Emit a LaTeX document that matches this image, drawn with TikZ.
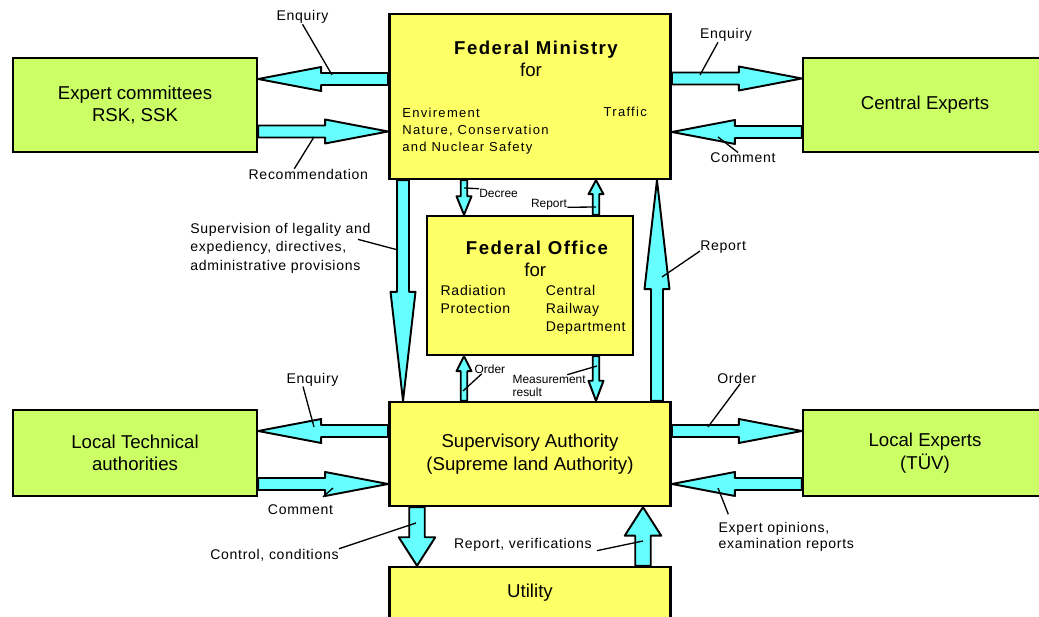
\documentclass[tikz,border=0pt]{standalone}
\usepackage{fontspec}
\setmainfont{Liberation Sans}
\usepackage{tikz}
\usetikzlibrary{calc, backgrounds}

\definecolor{boxyellow}{RGB}{255,255,102}
\definecolor{boxgreen}{RGB}{204,255,102}
\definecolor{arrcyan}{RGB}{102,255,255}

\tikzset{
  box/.style={draw, line width=1.4pt, inner sep=0pt, align=center,
    font=\fontsize{10.6}{12.8}\selectfont},
  ybox/.style={box, fill=boxyellow, minimum width=5.63cm},
  gbox/.style={box, fill=boxgreen, minimum width=4.88cm},
  title/.style={inner sep=0pt, font=\fontsize{10.6}{12.8}\selectfont\bfseries\addfontfeatures{LetterSpace=8}},
  forfont/.style={inner sep=0pt, font=\fontsize{10.6}{12.8}\selectfont},
  fmtext/.style={inner sep=0pt, align=left, font=\fontsize{7.4}{9.7}\selectfont\addfontfeatures{LetterSpace=10}},
  fotext/.style={inner sep=0pt, align=left, font=\fontsize{8}{10.1}\selectfont\addfontfeatures{LetterSpace=5}},
  lbl/.style={inner sep=0pt, align=left, font=\fontsize{8}{10.5}\selectfont\addfontfeatures{LetterSpace=5}},
  tiny/.style={inner sep=0pt, align=left, font=\fontsize{6.8}{7.6}\selectfont},
  lead/.style={line width=0.75pt},
  barrow/.style n args={3}{draw=black, line width=1.1pt, fill=arrcyan, line join=round,
    to path={
      ($(\tikztostart)!#1!90:(\tikztotarget)$)
      -- ($(\tikztotarget)!#3!(\tikztostart) + (\tikztostart)!#1!90:(\tikztotarget) - (\tikztostart)$)
      -- ($(\tikztotarget)!#3!(\tikztostart) + (\tikztostart)!#2!90:(\tikztotarget) - (\tikztostart)$)
      -- (\tikztotarget)
      -- ($(\tikztotarget)!#3!(\tikztostart) + (\tikztostart)!#2!-90:(\tikztotarget) - (\tikztostart)$)
      -- ($(\tikztotarget)!#3!(\tikztostart) + (\tikztostart)!#1!-90:(\tikztotarget) - (\tikztostart)$)
      -- ($(\tikztostart)!#1!-90:(\tikztotarget)$)
      -- cycle}},
  hbig/.style={barrow={0.12cm}{0.24cm}{1.26cm}},
  vbig/.style={barrow={0.12cm}{0.25cm}{2.18cm}},
  small/.style={barrow={0.065cm}{0.15cm}{#1}},
  fat/.style={barrow={0.155cm}{0.365cm}{0.57cm}}
}

\begin{document}
\begin{tikzpicture}[x=0.02cm, y=-0.02cm]
\useasboundingbox (0,0) rectangle (1039,617);

% boxes
\node[ybox, minimum height=3.3cm] (FM) at (530,96.5) {};
\node[gbox, minimum height=1.88cm] (EC) at (135,105) {Expert committees\\RSK, SSK};
\node[gbox, minimum height=1.88cm] (CE) at (925,105) {Central Experts};
\node[ybox, minimum width=4.12cm, minimum height=2.78cm] (FO) at (530,285.5) {};
\node[ybox, minimum height=2.08cm] (SA) at (530,454) {Supervisory Authority\\(Supreme land Authority)};
\node[ybox, minimum height=1.04cm] (UT) at (530,593) {Utility};
\node[gbox, minimum height=1.72cm] (LT) at (135,453) {Local Technical\\authorities};
\node[gbox, minimum height=1.72cm] (LE) at (925,453) {Local Experts\\(TÜV)};

% texts inside the two authorities
\node[title, anchor=base] (FMt) at (536,54.5) {Federal Ministry};
\node[forfont, anchor=base] (FMf) at (531,77) {for};
\node[fmtext, anchor=north west] (FMl) at (402,107.4) {Envirement\\Nature, Conservation\\and Nuclear Safety};
\node[fmtext, anchor=base west] (FMr) at (603.3,116.7) {Traffic};
\node[title, anchor=base] (FOt) at (537,255) {Federal Office};
\node[forfont, anchor=base] (FOf) at (535.3,276.7) {for};
\node[fotext, anchor=north west] (FOl) at (440.3,285) {Radiation\\Protection};
\node[fotext, anchor=north west] (FOr) at (545.5,285) {Central\\Railway\\Department};

% ports
\coordinate (ECa) at ([yshift=0.52cm]EC.east);
\coordinate (ECb) at ([yshift=-0.53cm]EC.east);
\coordinate (CEa) at ([yshift=0.53cm]CE.west);
\coordinate (CEb) at ([yshift=-0.54cm]CE.west);
\coordinate (LTa) at ([yshift=0.44cm]LT.east);
\coordinate (LTb) at ([yshift=-0.62cm]LT.east);
\coordinate (LEa) at ([yshift=0.44cm]LE.west);
\coordinate (LEb) at ([yshift=-0.62cm]LE.west);
\coordinate (Bl) at ([xshift=-2.54cm]FM.south);
\coordinate (Br) at ([xshift=2.54cm]FM.south);
\coordinate (Sl) at ([xshift=-1.32cm]FM.south);
\coordinate (Sr) at ([xshift=1.32cm]FM.south);
\coordinate (Ul) at ([xshift=-2.26cm]SA.south);
\coordinate (Ur) at ([xshift=2.26cm]SA.south);

% block arrows
\begin{scope}[on background layer]
\draw[hbig] (FM.west |- ECa) to (ECa);
\draw[hbig] (ECb) to (FM.west |- ECb);
\draw[hbig] (FM.east |- CEa) to (CEa);
\draw[hbig] (CEb) to (FM.east |- CEb);
\draw[hbig] (SA.west |- LTa) to (LTa);
\draw[hbig] (LTb) to (SA.west |- LTb);
\draw[hbig] (SA.east |- LEa) to (LEa);
\draw[hbig] (LEb) to (SA.east |- LEb);
\draw[vbig] (Bl) to (Bl |- SA.north);
\draw[vbig] (Br |- SA.north) to (Br);
\draw[small=0.37cm] (Sl) to (Sl |- FO.north);
\draw[small=0.28cm] (Sr |- FO.north) to (Sr);
\draw[small=0.3cm] (Sl |- SA.north) to (Sl |- FO.south);
\draw[small=0.4cm] (Sr |- FO.south) to (Sr |- SA.north);
\draw[fat] (Ul) to (Ul |- UT.north);
\draw[fat] (Ur |- UT.north) to (Ur);
\end{scope}

% labels
\node[lbl, anchor=base] (enqA) at (302.5,21) {Enquiry};
\node[lbl, anchor=base] (rec) at (308.3,179.3) {Recommendation};
\node[lbl, anchor=base] (enqB) at (726,39) {Enquiry};
\node[lbl, anchor=base] (comB) at (743,162.7) {Comment};
\node[tiny, anchor=base west] (dec) at (479,197.3) {Decree};
\node[tiny, anchor=base west] (repA) at (530.7,207.3) {Report};
\node[lbl, anchor=north west] (sup) at (190,223) {Supervision of legality and\\expediency, directives,\\administrative provisions};
\node[lbl, anchor=base west] (repB) at (700,251) {Report};
\node[tiny, anchor=base west] (ord) at (474.3,373.3) {Order};
\node[tiny, anchor=north west] (meas) at (512.3,374.7) {Measurement\\result};
\node[lbl, anchor=base] (enqC) at (312.5,383.3) {Enquiry};
\node[lbl, anchor=base] (comC) at (300.5,515) {Comment};
\node[lbl, anchor=base east] (ctl) at (339,559.3) {Control, conditions};
\node[lbl, anchor=base] (repV) at (522.8,548.3) {Report, verifications};
\node[lbl, anchor=base] (ordB) at (736.7,383.3) {Order};
\node[lbl, anchor=north west, font=\fontsize{8}{9.1}\selectfont\addfontfeatures{LetterSpace=5}] (expo) at (718.3,522.3) {Expert opinions,\\examination reports};

% leader ends
\coordinate (e1) at (332,75);
\coordinate (e2) at (314,137);
\coordinate (e3) at (700,75);
\coordinate (e4) at (718,137);
\coordinate (e5) at (464,188);
\coordinate (e6) at (596,207);
\coordinate (e7) at (398,250);
\coordinate (e8) at (662,277);
\coordinate (e9) at (463,391);
\coordinate (e10) at (597,366);
\coordinate (e11) at (314,427);
\coordinate (e12) at (333,488);
\coordinate (e13) at (416,523);
\coordinate (e14) at (643,541);
\coordinate (e15) at (708,427);
\coordinate (e16) at (718,488);

% leader lines
\draw[lead] (enqA.south) -- (e1);
\draw[lead] ([xshift=-0.28cm]rec.north) -- (e2);
\draw[lead] ([xshift=-0.16cm]enqB.south) -- (e3);
\draw[lead] ([xshift=-0.1cm]comB.north) -- (e4);
\draw[lead] (dec.north west) -- (e5);
\draw[lead] (repA.base east) -- (e6);
\draw[lead] ([shift={(-0.26cm,0.18cm)}]sup.east) -- (e7);
\draw[lead] (repB.base west) -- (e8);
\draw[lead] ([xshift=0.15cm]ord.south west) -- (e9);
\draw[lead] ([xshift=1.1cm]meas.north west) -- (e10);
\draw[lead] ([xshift=-0.19cm]enqC.south) -- (e11);
\draw[lead] ([shift={(0.45cm,0.16cm)}]comC.north) -- (e12);
\draw[lead] (ctl.north east) -- (e13);
\draw[lead] ([shift={(0.1cm,-0.12cm)}]repV.east) -- (e14);
\draw[lead] ([xshift=0.07cm]ordB.south) -- (e15);
\draw[lead] ([shift={(0.2cm,0.16cm)}]expo.north west) -- (e16);
\end{tikzpicture}
\end{document}
